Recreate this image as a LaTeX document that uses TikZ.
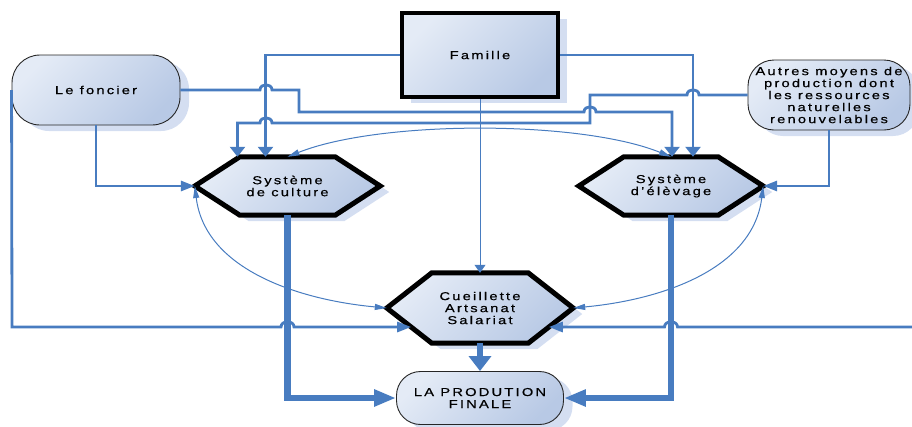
\documentclass[tikz,border=0pt]{standalone}
\usepackage{fontspec}
\setmainfont{Liberation Sans}[LetterSpace=19,FakeStretch=1.28,FakeBold=0.5]
\usetikzlibrary{arrows.meta,backgrounds,calc,shadows}

\definecolor{linkblue}{RGB}{72,124,192}
\definecolor{fillA}{RGB}{228,235,246}
\definecolor{fillB}{RGB}{184,201,229}
\definecolor{shadowblue}{RGB}{212,222,241}

\tikzset{
  boxshadow/.style={drop shadow={shadow xshift=9pt,shadow yshift=-6pt,fill=shadowblue,opacity=1}},
  gradfill/.style={top color=fillA,bottom color=fillB,shading angle=45},
  txt/.style={align=center,font=\fontsize{11.5}{12}\selectfont,inner sep=0pt,text=black},
  roundbox/.style={txt,draw=black!85,line width=0.9pt,gradfill,boxshadow},
  hexframe/.style={draw=black,line width=5pt,line join=miter,gradfill,boxshadow},
  link/.style={draw=linkblue,line width=2.8pt},
  heavy/.style={draw=linkblue,line width=6.5pt},
  fine/.style={draw=linkblue,line width=1pt},
  vtip/.style={-{Triangle[length=10pt,width=15pt]}},
  htip/.style={-{Triangle[length=14pt,width=10pt]}},
  heavyh/.style={-{Triangle[length=22pt,width=16pt]}},
  heavyv/.style={-{Triangle[length=15pt,width=22pt]}},
  finetips/.style={{Triangle[length=12pt,width=6pt]}-{Triangle[length=12pt,width=6pt]}},
  finev/.style={-{Triangle[length=8pt,width=11pt]}},
}

\begin{document}
\begin{tikzpicture}[x=1pt,y=-1pt]
\useasboundingbox (0,0) rectangle (912,426);

% rounded and square boxes
\node[roundbox,rounded corners=28pt,minimum width=168pt,minimum height=70pt] (fon) at (96,90) {Le foncier};
\node[txt,draw=black,line width=4.5pt,gradfill,boxshadow,minimum width=156pt,minimum height=84pt] (fam) at (480,55) {Famille};
\node[roundbox,rounded corners=26pt,minimum width=162pt,minimum height=70pt] (aut) at (829,95)
  {Autres moyens de\\production dont\\les ressources\\naturelles\\renouvelables};
\node[roundbox,rounded corners=24pt,minimum width=167pt,minimum height=53pt] (pro) at (480,398) {LA PRODUTION\\FINALE};

% hexagon labels (the frames are drawn behind them)
\node[txt,minimum width=185pt,minimum height=58pt] (cul) at (287.5,186) {Système\\de culture};
\node[txt,minimum width=184pt,minimum height=58pt] (ele) at (671,186) {Système\\d’élèvage};
\node[txt,minimum width=186pt,minimum height=70pt] (cue) at (480,308) {Cueillette\\Artsanat\\Salariat};

\begin{scope}[on background layer]
  \foreach \h in {cul,ele,cue}{
    \path[hexframe] (\h.west) -- ($(\h.north west)+(45,0)$) -- ($(\h.north east)+(-45,0)$)
      -- (\h.east) -- ($(\h.south east)+(-45,0)$) -- ($(\h.south west)+(45,0)$) -- cycle;
  }
\end{scope}

\coordinate (rin) at (912,327);

% Famille to both systems
\draw[link,vtip] (fam.west) -| ($(cul.north)+(-22,0)$);
\draw[link,vtip] (fam.east) -| ($(ele.north)+(22,0)$);

% Le foncier to the livestock system, hopping over crossings
\draw[link,vtip] (fon.east) -- (260,90) .. controls (260,83) and (272,83) .. (272,90)
  -- (299,90) -- (299,112) -- (584,112) .. controls (584,105) and (596,105) .. (596,112)
  -| ($(ele.north)+(1,0)$);

% other means of production to the crop system
\draw[link,vtip] (aut.west) -- (699,95) .. controls (699,88) and (687,88) .. (687,95)
  -- (590,95) -- (590,123) -- (272,123) .. controls (272,116) and (260,116) .. (260,123)
  -| ($(cul.north)+(-50,0)$);

\draw[link,htip] (fon.south) |- (cul.west);
\draw[link,htip] (aut.south) |- (ele.east);

% side inputs to the gathering / crafts / wages node
\draw[link,htip] (fon.west) -- (12,327) -- (281,327) .. controls (281,320) and (294,320) .. (294,327)
  -- ($(cue.west)+(24.4,19)$);
\draw[link,htip] (rin) -- (677.5,327) .. controls (677.5,320) and (664.5,320) .. (664.5,327)
  -- ($(cue.east)+(-24.4,19)$);

% flows into the final production
\draw[heavy,heavyh] (cul.south) |- (pro.west);
\draw[heavy,heavyh] (ele.south) |- (pro.east);
\draw[heavy,heavyv] (cue.south) -- (pro.north);

% thin mutual links
\draw[fine,finetips] (cul.north) .. controls (380,120) and (580,120) .. (ele.north);
\draw[fine,finetips] (cul.west) .. controls (205,270) and (300,300) .. (cue.west);
\draw[fine,finetips] (ele.east) .. controls (753,270) and (660,300) .. (cue.east);
\draw[fine,finev] (fam.south) -- (cue.north);
\end{tikzpicture}
\end{document}
